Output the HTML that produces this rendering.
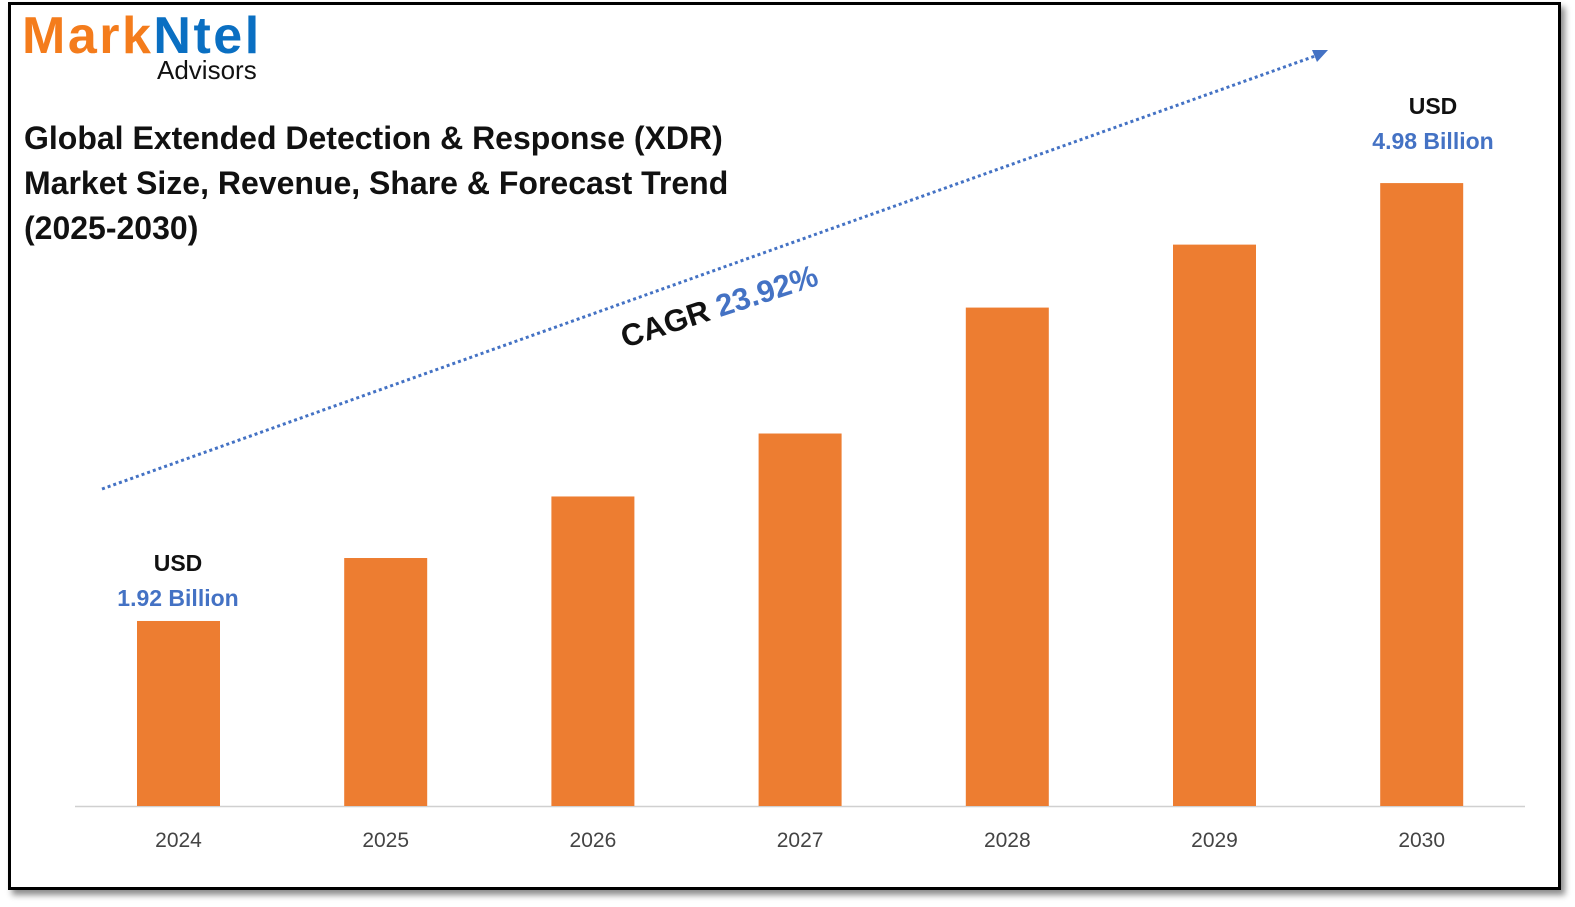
<!DOCTYPE html>
<html style="width:1575px;height:907px;overflow:hidden"><head><meta charset="utf-8"><style>
html,body{margin:0;padding:0;width:1575px;height:907px;overflow:hidden}
body{background:#fff;position:relative;font-family:"Liberation Sans",sans-serif}
#frame{position:absolute;left:8px;top:2px;width:1547px;height:882px;border:3px solid #000;box-shadow:4px 5px 6px rgba(0,0,0,0.45);background:#fff}
.t{position:absolute;font-weight:bold;white-space:nowrap}
</style></head><body>
<div id="frame"></div>
<div class="t" style="left:22px;top:10px;font-size:52px;letter-spacing:2.5px;line-height:52px"><span style="color:#f47c1c">Mark</span><span style="color:#0a6fc2">Ntel</span></div>
<div class="t" style="left:157px;top:55px;font-size:26px;font-weight:normal;color:#111">Advisors</div>
<div class="t" style="left:24px;top:116px;font-size:32px;line-height:45px;color:#111">Global Extended Detection &amp; Response (XDR)<br>Market Size, Revenue, Share &amp; Forecast Trend<br>(2025-2030)</div>
<svg id="c" width="1575" height="907" style="position:absolute;left:0;top:0;overflow:hidden"></svg>
<script>
const years=["2024","2025","2026","2027","2028","2029","2030"];
const values=[1.92,2.36,2.79,3.23,4.11,4.55,4.98];
const yMin=0.627, baseY=806, pxPerUnit=143.1;
const y=v=>baseY-(v-yMin)*pxPerUnit;
const x=i=>178.5+i*207.2;
const ns="http://www.w3.org/2000/svg",svg=document.getElementById('c');
function mk(t,a){const e=document.createElementNS(ns,t);for(const k in a)e.setAttribute(k,a[k]);svg.appendChild(e);return e;}
const ax=mk('line',{x1:75,x2:1525,y1:806.5,y2:806.5,stroke:'#d0d0d0','stroke-width':1.5});


values.forEach((v,i)=>{
 const r=mk('rect',{x:x(i)-41.5,y:y(v),width:83,height:baseY-y(v),fill:'#ed7d31'});
 
 
 const t=mk('text',{x:x(i),y:847,'text-anchor':'middle','font-size':21,fill:'#444','font-family':'Liberation Sans, sans-serif'});
 t.textContent=years[i];
 
 
});
function label(i,txt,off,cx){
 const yy=y(values[i]);
 const a=mk('text',{x:cx,y:yy-off-35,'text-anchor':'middle','font-size':23,'font-weight':'bold',fill:'#111','font-family':'Liberation Sans, sans-serif'});
 a.textContent='USD';
 
 
 const b=mk('text',{x:cx,y:yy-off,'text-anchor':'middle','font-size':23,'font-weight':'bold',fill:'#4472c4','font-family':'Liberation Sans, sans-serif'});
 b.textContent=txt;
 
 
}
label(0,values[0].toFixed(2)+' Billion',15,178);
label(6,values[6].toFixed(2)+' Billion',34,1433);
const ln=mk('line',{x1:102,y1:489,x2:1318,y2:55,stroke:'#4472c4','stroke-width':3,'stroke-dasharray':'3 3'});


const ah=mk('polygon',{points:'1328,50 1312,50 1317,62',fill:'#4472c4'});


const cg=mk('text',{x:0,y:0,'font-size':31,'font-weight':'bold','font-family':'Liberation Sans, sans-serif',transform:'translate(625,348) rotate(-18)'});
cg.innerHTML='<tspan fill="#111">CAGR </tspan><tspan fill="#4472c4">23.92%</tspan>';


</script>
</body></html>
